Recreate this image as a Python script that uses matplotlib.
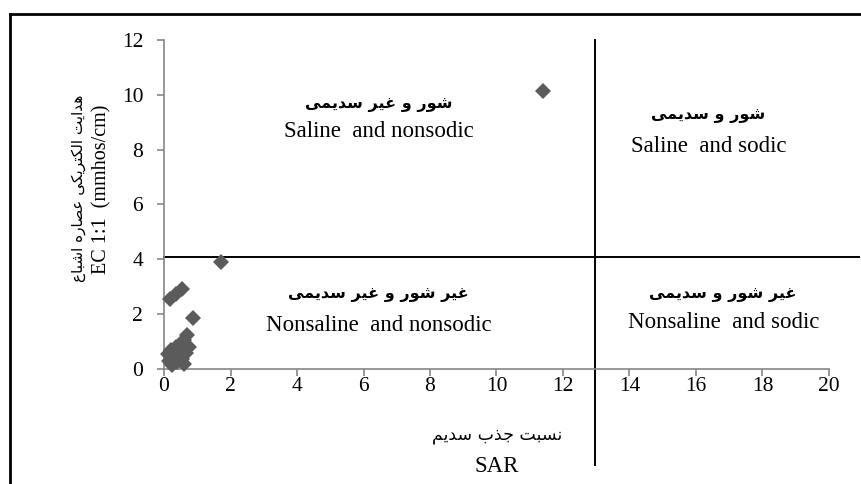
import matplotlib
matplotlib.use("Agg")
import matplotlib.pyplot as plt
from matplotlib.lines import Line2D

# data (SAR vs EC)
sar = [0.12, 0.15, 0.2, 0.25, 0.3, 0.35, 0.4, 0.45, 0.5, 0.55, 0.6, 0.65, 0.7, 0.75, 0.6,
       0.18, 0.36, 0.53, 0.88, 1.70, 11.4]
ec = [0.55, 0.3, 0.7, 0.15, 0.45, 0.8, 0.25, 0.6, 0.9, 0.35, 1.05, 0.6, 1.25, 0.8, 0.2,
      2.54, 2.73, 2.91, 1.87, 3.91, 10.15]
ec_limit = 4.1
sar_limit = 12.95
xticks = list(range(0, 21, 2))
yticks = list(range(0, 13, 2))

# simple arabic/persian shaping: (isolated, final, initial, medial)
FORMS = {
    'ا': ('\uFE8D', '\uFE8E', None, None),
    'ب': ('\uFE8F', '\uFE90', '\uFE91', '\uFE92'),
    'ت': ('\uFE95', '\uFE96', '\uFE97', '\uFE98'),
    'ج': ('\uFE9D', '\uFE9E', '\uFE9F', '\uFEA0'),
    'د': ('\uFEA9', '\uFEAA', None, None),
    'ذ': ('\uFEAB', '\uFEAC', None, None),
    'ر': ('\uFEAD', '\uFEAE', None, None),
    'س': ('\uFEB1', '\uFEB2', '\uFEB3', '\uFEB4'),
    'ش': ('\uFEB5', '\uFEB6', '\uFEB7', '\uFEB8'),
    'ص': ('\uFEB9', '\uFEBA', '\uFEBB', '\uFEBC'),
    'ع': ('\uFEC9', '\uFECA', '\uFECB', '\uFECC'),
    'غ': ('\uFECD', '\uFECE', '\uFECF', '\uFED0'),
    'ل': ('\uFEDD', '\uFEDE', '\uFEDF', '\uFEE0'),
    'م': ('\uFEE1', '\uFEE2', '\uFEE3', '\uFEE4'),
    'ن': ('\uFEE5', '\uFEE6', '\uFEE7', '\uFEE8'),
    'ه': ('\uFEE9', '\uFEEA', '\uFEEB', '\uFEEC'),
    'و': ('\uFEED', '\uFEEE', None, None),
    'ی': ('\uFBFC', '\uFBFD', '\uFBFE', '\uFBFF'),
    'ک': ('\uFB8E', '\uFB8F', '\uFB90', '\uFB91'),
}


def fa(s):
    out = []
    for i, c in enumerate(s):
        if c not in FORMS:
            out.append(c)
            continue
        prev = s[i - 1] if i > 0 else None
        nxt = s[i + 1] if i + 1 < len(s) else None
        jp = prev in FORMS and FORMS[prev][2] is not None
        jn = nxt in FORMS and FORMS[c][2] is not None
        if jp and jn:
            out.append(FORMS[c][3])
        elif jp:
            out.append(FORMS[c][1])
        elif jn:
            out.append(FORMS[c][2])
        else:
            out.append(FORMS[c][0])
    return ''.join(reversed(out))


serif = 'Liberation Serif'
arab = 'DejaVu Sans'

fig = plt.figure(figsize=(8.61, 4.84), dpi=100)
ax = fig.add_axes([0.1905, 0.2376, 0.7723, 0.6798])

ax.plot(sar, ec, linestyle='none', marker='D', markersize=8.5, color='#5b5b5b',
        markeredgewidth=0, clip_on=False, zorder=3)

ax.plot([0, 20.9], [ec_limit, ec_limit], color='black', lw=1.4, clip_on=False)
ax.plot([sar_limit, sar_limit], [-3.5, 12], color='black', lw=1.4, clip_on=False)

ax.set_xlim(0, 20)
ax.set_ylim(0, 12)
ax.set_xticks(xticks)
ax.set_yticks(yticks)
for sp in ['top', 'right']:
    ax.spines[sp].set_visible(False)
for sp in ['left', 'bottom']:
    ax.spines[sp].set_color('#868686')
    ax.spines[sp].set_linewidth(1.2)
ax.tick_params(colors='#868686', labelcolor='black', length=5, width=1.2, direction='out')
ax.tick_params(axis='x', pad=1)
ax.tick_params(axis='y', pad=10)
for lab in ax.get_xticklabels() + ax.get_yticklabels():
    lab.set_fontfamily(serif)
    lab.set_fontsize(15.5)

# quadrant labels
quads = [
    (6.45, 9.63, 8.68, 'شور و غیر سدیمی', 'Saline  and nonsodic'),
    (16.37, 9.26, 8.13, 'شور و سدیمی', 'Saline  and sodic'),
    (6.45, 2.70, 1.60, 'غیر شور و غیر سدیمی', 'Nonsaline  and nonsodic'),
    (16.82, 2.70, 1.68, 'غیر شور و سدیمی', 'Nonsaline  and sodic'),
]
for x, ya, ye, t_fa, t_en in quads:
    ax.text(x, ya, fa(t_fa), family=arab, fontsize=11.5, fontweight='bold',
            ha='center', va='center')
    ax.text(x, ye, t_en, family=serif, fontsize=16.5, ha='center', va='center')

# axis titles
fig.text(497 / 861, 1 - 435 / 484, fa('نسبت جذب سدیم'), family=arab, fontsize=12.5,
         ha='center', va='center')
fig.text(497 / 861, 1 - 467 / 484, 'SAR', family=serif, fontsize=16.5,
         ha='center', va='center')
fig.text(79 / 861, 1 - 188 / 484, fa('هدایت الکتریکی عصاره اشباع'), family=arab,
         fontsize=11, rotation=90, ha='center', va='center')
fig.text(102 / 861, 1 - 189 / 484, 'EC 1:1  (mmhos/cm)', family=serif, fontsize=14.5,
         rotation=90, ha='center', va='center')

# outer frame
fig.add_artist(Line2D([10 / 861, 10 / 861], [0, 1 - 14 / 484], color='black', lw=2))
fig.add_artist(Line2D([10 / 861, 1], [1 - 14 / 484, 1 - 14 / 484], color='black', lw=2))

fig.savefig('out.png', dpi=100)
